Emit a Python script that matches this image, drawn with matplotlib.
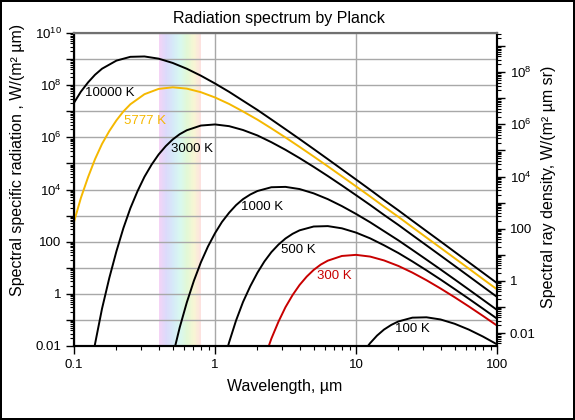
import matplotlib
matplotlib.use('Agg')
import numpy as np
import matplotlib.pyplot as plt
from matplotlib.colors import LinearSegmentedColormap
from matplotlib.ticker import LogLocator, NullFormatter

plt.rcParams['font.family'] = ['Liberation Sans', 'DejaVu Sans']
plt.rcParams['mathtext.fontset'] = 'custom'
plt.rcParams['mathtext.rm'] = 'Liberation Sans'
plt.rcParams['mathtext.it'] = 'Liberation Sans:italic'

# wavelength (um) / spectral radiation W/(m2 um)
wl_10000 = [0.1, 0.112, 0.126, 0.141, 0.158, 0.2, 0.251, 0.316, 0.398, 0.501, 0.631, 0.794, 1,
            1.26, 1.58, 2.0, 2.51, 3.16, 3.98, 5.01, 6.31, 7.94, 10, 12.6, 15.8, 20.0, 25.1, 31.6,
            39.8, 50.1, 63.1, 79.4, 100]
m_10000 = [2.11e7, 5.68e7, 1.29e8, 2.51e8, 4.27e8, 8.74e8, 1.22e9, 1.26e9, 1.04e9, 7.11e8, 4.26e8,
           2.31e8, 1.16e8, 5.54e7, 2.53e7, 1.12e7, 4.84e6, 2.05e6, 8.60e5, 3.56e5, 1.46e5, 5.96e4,
           2.42e4, 9.77e3, 3.94e3, 1.58e3, 635, 254, 102, 40.6, 16.2, 6.47, 2.58]

wl_5777 = [0.1, 0.112, 0.126, 0.141, 0.158, 0.178, 0.2, 0.224, 0.251, 0.316, 0.398, 0.501, 0.631,
           0.794, 1, 1.26, 1.58, 2.0, 2.51, 3.16, 3.98, 5.01, 6.31, 7.94, 10, 12.6, 15.8, 20.0,
           25.1, 31.6, 39.8, 50.1, 63.1, 79.4, 100]
m_5777 = [571, 4.82e3, 3.03e4, 1.46e5, 5.59e5, 1.74e6, 4.49e6, 9.81e6, 1.85e7, 4.50e7, 7.19e7,
          8.28e7, 7.37e7, 5.38e7, 3.38e7, 1.90e7, 9.81e6, 4.76e6, 2.21e6, 9.88e5, 4.30e5, 1.84e5,
          7.73e4, 3.21e4, 1.32e4, 5.41e3, 2.20e3, 890, 359, 144, 58.0, 23.2, 9.29, 3.71, 1.48]

wl_3000 = [0.126, 0.141, 0.158, 0.178, 0.2, 0.224, 0.251, 0.282, 0.316, 0.355, 0.398, 0.447, 0.501,
           0.562, 0.631, 0.794, 1, 1.26, 1.58, 2.0, 2.51, 3.16, 3.98, 5.01, 6.31, 7.94, 10, 12.6,
           15.8, 20.0, 25.1, 31.6, 39.8, 50.1, 63.1, 79.4, 100]
m_3000 = [3.4e-4, 0.0120, 0.269, 4.07, 43.1, 330, 1.91e3, 8.56e3, 3.07e4, 8.97e4, 2.19e5, 4.57e5,
          8.27e5, 1.32e6, 1.87e6, 2.83e6, 3.12e6, 2.68e6, 1.91e6, 1.18e6, 6.51e5, 3.33e5, 1.60e5,
          7.38e4, 3.29e4, 1.43e4, 6.08e3, 2.55e3, 1.06e3, 436, 178, 72.3, 29.2, 11.8, 4.74, 1.90,
          0.762]

wl_1000 = [0.501, 0.562, 0.631, 0.708, 0.794, 0.891, 1, 1.12, 1.26, 1.41, 1.58, 1.78, 2.0, 2.51,
           3.16, 3.98, 5.01, 6.31, 7.94, 10, 12.6, 15.8, 20.0, 25.1, 31.6, 39.8, 50.1, 63.1, 79.4,
           100]
m_1000 = [0.00403, 0.0514, 0.468, 3.14, 16.1, 64.9, 211, 568, 1.29e3, 2.51e3, 4.27e3, 6.44e3,
          8.75e3, 1.22e4, 1.26e4, 1.04e4, 7.11e3, 4.27e3, 2.31e3, 1.16e3, 554, 253, 112, 48.4,
          20.5, 8.59, 3.56, 1.46, 0.596, 0.242]

wl_500 = [1.12, 1.26, 1.41, 1.58, 1.78, 2.0, 2.24, 2.51, 2.82, 3.16, 3.55, 3.98, 5.01, 6.31, 7.94,
          10, 12.6, 15.8, 20.0, 25.1, 31.6, 39.8, 50.1, 63.1, 79.4, 100]
m_500 = [0.00153, 0.0140, 0.0946, 0.486, 1.97, 6.46, 17.4, 39.6, 77.4, 132, 200, 272, 381, 395,
         325, 223, 134, 72.8, 36.6, 17.5, 7.98, 3.53, 1.52, 0.647, 0.271, 0.112]

wl_300 = [2.0, 2.24, 2.51, 2.82, 3.16, 3.55, 3.98, 4.47, 5.01, 5.62, 6.31, 7.94, 10, 12.6, 15.8,
          20.0, 25.1, 31.6, 39.8, 50.1, 63.1, 79.4, 100]
m_300 = [4.3e-4, 0.00330, 0.0191, 0.0857, 0.307, 0.898, 2.19, 4.57, 8.26, 13.2, 18.7, 28.3, 31.2,
         26.8, 19.1, 11.7, 6.52, 3.33, 1.60, 0.738, 0.329, 0.143, 0.0608]

wl_100 = [10, 11.2, 12.6, 14.1, 15.8, 17.8, 20.0, 25.1, 31.6, 39.8, 50.1, 63.1, 79.4, 100]
m_100 = [0.00211, 0.00568, 0.0129, 0.0251, 0.0427, 0.0645, 0.0874, 0.122, 0.126, 0.104, 0.0711,
         0.0426, 0.0231, 0.0116]

curve_labels = ['10000 K', '5777 K', '3000 K', '1000 K', '500 K', '300 K', '100 K']

fig = plt.figure(figsize=(5.75, 4.2), dpi=100)
fig.patch.set_edgecolor('black')
fig.patch.set_linewidth(1.5)
ax = fig.add_axes([74 / 575, 1 - 346 / 420, 423 / 575, 313 / 420])

# visible band
band = LinearSegmentedColormap.from_list('band', ['#f4d4f6', '#dcdafb', '#d6eaf8', '#d8f8f0',
                                                  '#e2f8d6', '#f8f6d4', '#fde0e0'])
edges = np.geomspace(0.4, 0.8, 61)
for i in range(60):
    ax.axvspan(edges[i], edges[i + 1], color=band(i / 59), lw=0, zorder=0.2)

series = [(wl_10000, m_10000, 'black'), (wl_5777, m_5777, '#f5b800'),
          (wl_3000, m_3000, 'black'), (wl_1000, m_1000, 'black'), (wl_500, m_500, 'black'),
          (wl_300, m_300, '#c80000'), (wl_100, m_100, 'black')]
for wl, m, c in series:
    ax.plot(wl, m, color=c, lw=1.4, zorder=3)

ax.set_xscale('log')
ax.set_yscale('log')
ax.set_xlim(0.1, 100)
ax.set_ylim(0.01, 1e10)
ax.set_axisbelow(True)

def dec_label(e):
    if e == -2:
        return '0.01'
    if e == 0:
        return '1'
    if e == 2:
        return '100'
    return r'$10^{%d}$' % e

ax.set_xticks([0.1, 1, 10, 100], labels=['0.1', '1', '10', '100'])
ax.xaxis.set_minor_locator(LogLocator(base=10, subs=np.arange(2, 10), numticks=50))
ax.xaxis.set_minor_formatter(NullFormatter())
ax.set_yticks([10.0 ** e for e in range(-2, 11)],
              labels=[dec_label(e) if e % 2 == 0 else '' for e in range(-2, 11)])
ax.yaxis.set_minor_locator(LogLocator(base=10, subs=np.arange(2, 10), numticks=50))
ax.yaxis.set_minor_formatter(NullFormatter())
ax.grid(which='major', color='#a8a8a8', lw=1)
ax.tick_params(which='major', direction='out', length=6, width=1, labelsize=9.5, pad=3)
ax.tick_params(which='minor', direction='out', length=3, width=0.8)

ax2 = ax.twinx()
ax2.set_yscale('log')
ax2.set_ylim(0.01 / np.pi, 1e10 / np.pi)
ax2.set_yticks([10.0 ** e for e in range(-2, 10)],
               labels=[dec_label(e) if e % 2 == 0 else '' for e in range(-2, 10)])
ax2.yaxis.set_minor_locator(LogLocator(base=10, subs=np.arange(2, 10), numticks=50))
ax2.yaxis.set_minor_formatter(NullFormatter())
ax2.tick_params(which='major', direction='out', length=6, width=1, labelsize=9.5, pad=3)
ax2.tick_params(which='minor', direction='out', length=3, width=0.8)

for a in (ax, ax2):
    for s in ('left', 'bottom', 'right'):
        a.spines[s].set_color('black')
        a.spines[s].set_linewidth(1.5)
    a.spines['top'].set_color('#707070')
    a.spines['top'].set_linewidth(1.5)

label_pos = [(0.1197, 5.0e7), (0.226, 4.4e6), (0.488, 3.6e5), (1.53, 2.1e3), (2.92, 46),
             (5.28, 5.0), (18.9, 0.046)]
label_col = ['black', '#f5b800', 'black', 'black', 'black', '#c80000', 'black']
for s, (x, y), c in zip(curve_labels, label_pos, label_col):
    ax.text(x, y, s, color=c, fontsize=9.5, ha='left', va='center', zorder=4)

fig.text(279 / 575, 1 - 19 / 420, 'Radiation spectrum by Planck', fontsize=11.5,
         ha='center', va='center')
fig.text(285 / 575, 1 - 387 / 420, 'Wavelength, µm', fontsize=11.5, ha='center', va='center')
fig.text(18 / 575, 1 - 160 / 420, 'Spectral specific radiation , W/(m² µm)', fontsize=11.5,
         rotation=90, ha='center', va='center')
fig.text(548 / 575, 1 - 187 / 420, 'Spectral ray density, W/(m² µm sr)', fontsize=11.5,
         rotation=90, ha='center', va='center')

fig.savefig('out.png', dpi=100)
